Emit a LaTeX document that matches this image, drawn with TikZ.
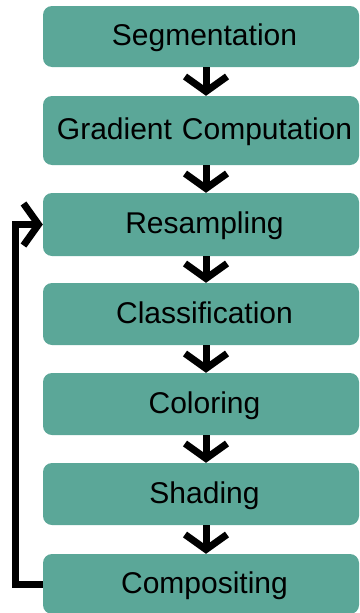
\documentclass[tikz,border=0pt]{standalone}
\usepackage{fontspec}
\setmainfont{Liberation Sans}
\usetikzlibrary{arrows.meta}
\definecolor{tealbox}{RGB}{91,167,152}
\begin{document}
\begin{tikzpicture}[x=1pt,y=1pt,
  stepbox/.style={fill=tealbox, rounded corners=9pt, minimum width=316pt,
    inner xsep=0pt, inner ysep=0pt, text width=316pt, align=center,
    font=\fontsize{30}{36}\selectfont, text height=18pt, text depth=0pt},
  flow/.style={line width=7pt, line join=miter,
    -{Straight Barb[length=15pt,width=42pt]}}
]
\useasboundingbox (0,0) rectangle (359,-613);
\node[stepbox, minimum height=61pt] (b1) at (201,-36.5) {\hspace*{7pt}Segmentation};
\node[stepbox, minimum height=69pt] (b2) at (201,-130.5) {\hspace*{7pt}Gradient Computation};
\node[stepbox, minimum height=63pt] (b3) at (201,-224.5) {\hspace*{7pt}Resampling};
\node[stepbox, minimum height=62pt] (b4) at (201,-314) {\hspace*{7pt}Classification};
\node[stepbox, minimum height=62pt] (b5) at (201,-404) {\hspace*{7pt}Coloring};
\node[stepbox, minimum height=62pt] (b6) at (201,-494) {\hspace*{7pt}Shading};
\node[stepbox, minimum height=60pt] (b7) at (201,-584) {\hspace*{7pt}Compositing};
\foreach \a/\b in {b1/b2,b2/b3,b3/b4,b4/b5,b5/b6,b6/b7}
  \draw[flow] ([xshift=5pt]\a.south) -- ([xshift=5pt]\b.north);
\draw[flow] (b7.west) -- ++(-27,0) |- (b3.west);
\end{tikzpicture}
\end{document}
